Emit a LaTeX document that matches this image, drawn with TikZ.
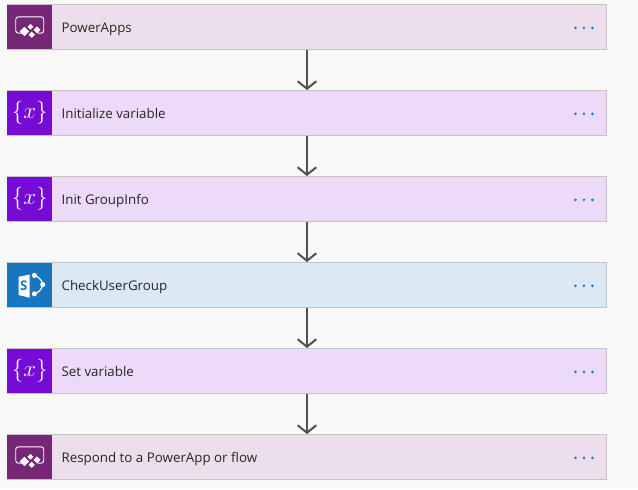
\documentclass[tikz,border=0pt]{standalone}
\usepackage{fontspec}
\setmainfont{Open Sans}
\usetikzlibrary{positioning}
\usetikzlibrary{arrows.meta}
\definecolor{pagebg}{HTML}{F8F8F8}
\definecolor{cardline}{HTML}{C4C4C4}
\definecolor{appsdark}{HTML}{742774}
\definecolor{appslight}{HTML}{ECDFEB}
\definecolor{vardark}{HTML}{770BD6}
\definecolor{varlight}{HTML}{ECDAF8}
\definecolor{spdark}{HTML}{1976BE}
\definecolor{splight}{HTML}{DCE8F4}
\definecolor{dotblue}{HTML}{0F7FDC}
\definecolor{arrowgray}{HTML}{505050}
\tikzstyle{card} = [draw=cardline, line width=0.75pt,
minimum width=449.25pt, minimum height=33.75pt,
inner sep=0pt, outer sep=0pt, anchor=north west]
\tikzstyle{icon} = [minimum width=33.4pt, minimum height=33.4pt,
inner sep=0pt, outer sep=0pt]
\tikzstyle{title} = [inner sep=0pt, font=\fontsize{10pt}{12pt}\selectfont, text=black!85]
\tikzstyle{arrow} = [line width=1.5pt, draw=arrowgray, -{Straight Barb[length=5.6pt,width=14pt,line width=1.5pt]}, shorten >=0.4pt]
\tikzstyle{dot} = [circle, fill=dotblue, minimum size=2.2pt, inner sep=0pt]
\tikzset{
  % the two app icons share the same diamonds
  appsglyph/.pic={
    \draw[white, line width=0.7pt, rounded corners=2pt] (-5pt,-4.8pt) -- (-10.5pt,-4.8pt) -- (-10.5pt,7.5pt) -- (10.5pt,7.5pt) -- (10.5pt,-4.8pt) -- (6pt,-4.8pt);
    \fill[white] (-4pt,-7pt) -- (-0.5pt,-3.5pt) -- (-4pt,0pt) -- (-7.5pt,-3.5pt) -- cycle;
    \fill[white] (0.5pt,-2.2pt) -- (2.7pt,0pt) -- (0.5pt,2.2pt) -- (-1.7pt,0pt) -- cycle;
    \fill[white] (5.5pt,-4.9pt) -- (8.1pt,-2.3pt) -- (5.5pt,0.3pt) -- (2.9pt,-2.3pt) -- cycle;
    \fill[white] (1.5pt,-8.3pt) -- (3.8pt,-6pt) -- (1.5pt,-3.7pt) -- (-0.8pt,-6pt) -- cycle;
  },
  spglyph/.pic={
    \draw[white, line width=0.9pt] (3.5pt,7pt) to[bend left=30] (9.75pt,0.2pt) to[bend left=30] (3.5pt,-6.8pt);
    \fill[white] (3.5pt,7pt) circle (1.9pt) (9.75pt,0.2pt) circle (1.9pt) (3.5pt,-6.8pt) circle (1.9pt);
    \fill[white] (-8.25pt,6pt) -- (0pt,7.7pt) -- (0pt,-9.7pt) -- (-8.25pt,-7.7pt) -- cycle;
    \node[text=spdark, font=\bfseries\fontsize{10pt}{10pt}\selectfont, inner sep=0pt] at (-4.5pt,-0.6pt) {S};
  },
  varglyph/.pic={
    \node[text=white, inner sep=0pt, font=\fontsize{16.5pt}{18pt}\selectfont] at (0pt,0.2pt) {$\{x\}$};
  },
  dotrow/.pic={
    \node[dot] at (-6.4pt,0pt) {};
    \node[dot] at (0pt,0pt) {};
    \node[dot] at (6.4pt,0pt) {};
  }
}
% name, previous card, fill, icon fill, glyph, text
\newcommand{\flowcard}[6]{
  \node[card, fill=#3, #2] (#1) {};
  \node[icon, fill=#4, anchor=north west] (#1icon) at (#1.north west) {};
  \pic at (#1icon.center) {#5};
  \node[title, anchor=base west] (#1text) at ([xshift=7pt,yshift=-4.3pt]#1icon.east) {#6};
  \pic at ([xshift=-16.9pt,yshift=-0.6pt]#1.east) {dotrow};
}
\begin{document}
\begin{tikzpicture}
  \useasboundingbox[fill=pagebg] (0,0) rectangle (478.5pt,-366.75pt);

  % cards from top to bottom
  \flowcard{apps}{at={(5.6pt,-3.4pt)}}{appslight}{appsdark}{appsglyph}{PowerApps}
  \flowcard{initvar}{below=30.75pt of apps.south west, anchor=north west}{varlight}{vardark}{varglyph}{Initialize variable}
  \flowcard{initgroup}{below=30.75pt of initvar.south west, anchor=north west}{varlight}{vardark}{varglyph}{Init GroupInfo}
  \flowcard{checkuser}{below=30.75pt of initgroup.south west, anchor=north west}{splight}{spdark}{spglyph}{CheckUserGroup}
  \flowcard{setvar}{below=30.75pt of checkuser.south west, anchor=north west}{varlight}{vardark}{varglyph}{Set variable}
  \flowcard{respond}{below=30.75pt of setvar.south west, anchor=north west}{appslight}{appsdark}{appsglyph}{Respond to a PowerApp or flow}

  % arrows
  \draw[arrow] (apps) -- (initvar);
  \draw[arrow] (initvar) -- (initgroup);
  \draw[arrow] (initgroup) -- (checkuser);
  \draw[arrow] (checkuser) -- (setvar);
  \draw[arrow] (setvar) -- (respond);
\end{tikzpicture}
\end{document}
